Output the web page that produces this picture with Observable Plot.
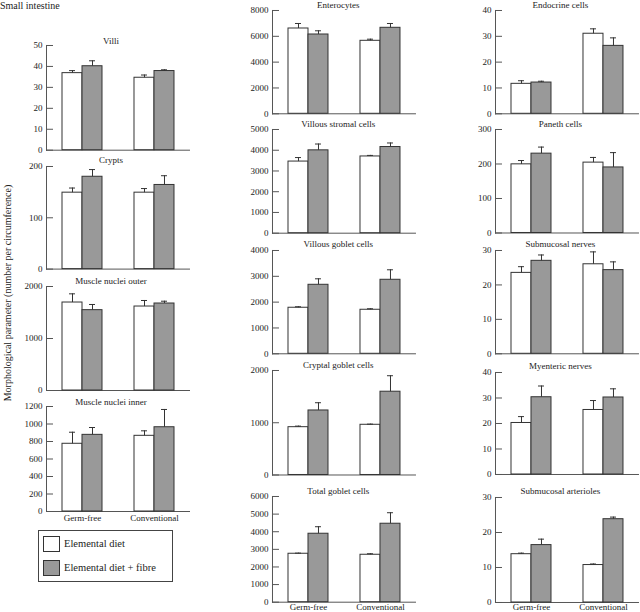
<!DOCTYPE html>
<html><head><meta charset="utf-8">
<script src="https://cdn.jsdelivr.net/npm/d3@7"></script>
<script src="https://cdn.jsdelivr.net/npm/@observablehq/plot@0.6"></script>
<style>
body{margin:0;background:#fff;}
#chart{position:relative;width:640px;height:612px;overflow:hidden;font-family:"Liberation Serif","Times New Roman",serif;color:#222;background:#fff;}
.abs{position:absolute;}
.title{position:absolute;font-size:9px;line-height:9px;white-space:nowrap;transform:translate(-50%,-50%);}
</style></head><body><div id="chart"></div><script>
// ---- data ----
const groups = ["Germ-free", "Conventional"];
const diets = ["Elemental diet", "Elemental diet + fibre"];
// value order: Germ-free/Elemental, Germ-free/+fibre, Conventional/Elemental, Conventional/+fibre
const villiMean = [36.8, 40.1, 34.6, 37.8];       const villiSem = [1.2, 2.6, 1.3, 0.6];
const cryptsMean = [149, 180, 149, 164];          const cryptsSem = [9, 14, 8, 18];
const muscleOuterMean = [1692, 1545, 1615, 1673]; const muscleOuterSem = [167, 109, 116, 44];
const muscleInnerMean = [774, 876, 865, 963];     const muscleInnerSem = [132, 84, 57, 203];
const enterocytesMean = [6606, 6141, 5653, 6660]; const enterocytesSem = [387, 287, 124, 333];
const stromalMean = [3454, 3995, 3700, 4155];     const stromalSem = [193, 305, 50, 195];
const villGobletMean = [1783, 2672, 1705, 2866];  const villGobletSem = [38, 232, 39, 387];
const cryptGobletMean = [915, 1235, 961, 1594];   const cryptGobletSem = [20, 148, 12, 306];
const totalGobletMean = [2750, 3886, 2693, 4454]; const totalGobletSem = [34, 398, 57, 625];
const endocrineMean = [11.6, 12.1, 31.0, 26.3];   const endocrineSem = [1.2, 0.5, 1.9, 3.1];
const panethMean = [199, 230, 204, 190];          const panethSem = [11, 19, 15, 43];
const subNervesMean = [23.5, 27.0, 26.0, 24.3];   const subNervesSem = [1.8, 1.7, 3.6, 2.4];
const myentericMean = [20.2, 30.3, 25.3, 30.2];   const myentericSem = [2.5, 4.4, 3.7, 3.4];
const arteriolesMean = [13.8, 16.4, 10.7, 23.8];  const arteriolesSem = [0.3, 1.7, 0.3, 0.6];

const panelTitles = ["Villi","Crypts","Muscle nuclei outer","Muscle nuclei inner",
  "Enterocytes","Villous stromal  cells","Villous goblet cells","Cryptal goblet cells","Total goblet cells",
  "Endocrine cells","Paneth cells","Submucosal nerves","Myenteric nerves","Submucosal arterioles"];
const panelMeans = [villiMean,cryptsMean,muscleOuterMean,muscleInnerMean,enterocytesMean,stromalMean,villGobletMean,cryptGobletMean,totalGobletMean,endocrineMean,panethMean,subNervesMean,myentericMean,arteriolesMean];
const panelSems = [villiSem,cryptsSem,muscleOuterSem,muscleInnerSem,enterocytesSem,stromalSem,villGobletSem,cryptGobletSem,totalGobletSem,endocrineSem,panethSem,subNervesSem,myentericSem,arteriolesSem];
const axisMax =  [50, 200, 2000, 1200, 8000, 5000, 4000, 2000, 6000, 40, 300, 30, 40, 30];
const axisStep = [10, 100, 1000, 200, 2000, 1000, 1000, 1000, 1000, 10, 100, 10, 10, 10];

// ---- layout ----
const cols = [{axisX:45, w:145, mr:5, pad:3}, {axisX:272.3, w:144.7, mr:5, pad:1}, {axisX:494.3, w:145.7, mr:0, pad:1}];
const layout = [
  {col:0, yTop:45.3, yBase:150, titleY:40.5},
  {col:0, yTop:165.7, yBase:268.3, titleY:159.5},
  {col:0, yTop:286, yBase:390, titleY:280.5},
  {col:0, yTop:406, yBase:511, titleY:401.5, bottom:true},
  {col:1, yTop:10, yBase:113.3, titleY:4.5},
  {col:1, yTop:129.3, yBase:233, titleY:124},
  {col:1, yTop:250, yBase:353.3, titleY:244},
  {col:1, yTop:370, yBase:474.5, titleY:365},
  {col:1, yTop:496, yBase:601.7, titleY:491, bottom:true},
  {col:2, yTop:10, yBase:113.3, titleY:4.5},
  {col:2, yTop:129.3, yBase:232.8, titleY:124},
  {col:2, yTop:250, yBase:353.3, titleY:244},
  {col:2, yTop:372.3, yBase:474.3, titleY:366},
  {col:2, yTop:496.7, yBase:601.7, titleY:491, bottom:true}
];

const chart = document.getElementById("chart");
const FONT = '"Liberation Serif","Times New Roman",serif';

panelTitles.forEach((title, k) => {
  const L = layout[k], c = cols[L.col];
  const rows = [];
  groups.forEach((g, gi) => diets.forEach((d, di) => {
    const i = gi * 2 + di;
    rows.push({group: g, diet: d, mean: panelMeans[k][i], upper: panelMeans[k][i] + panelSems[k][i]});
  }));
  const mt = 6, mb = L.bottom ? 20 : 6, ml = 45;
  const svg = Plot.plot({
    width: ml + c.w + c.mr,
    height: (L.yBase - L.yTop) + mt + mb,
    marginTop: mt, marginBottom: mb, marginLeft: ml, marginRight: c.mr,
    style: {fontFamily: FONT, fontSize: "9px", color: "#222", background: "transparent", overflow: "visible"},
    fx: {domain: groups, padding: 0, axis: L.bottom ? "bottom" : null, label: null, tickSize: 0, tickPadding: c.pad},
    x: {domain: diets, paddingInner: 0, paddingOuter: 0.726, axis: null},
    y: {domain: [0, axisMax[k]], axis: null},
    color: {domain: diets, range: ["#ffffff", "#999999"]},
    marks: [
      Plot.frame({anchor: "left", facetAnchor: "left", stroke: "#555"}),
      Plot.axisY(d3.range(0, axisMax[k] + axisStep[k] / 2, axisStep[k]), {anchor: "left", tickSize: -7, tickPadding: 11, tickFormat: d => String(d), stroke: "#555"}),
      Plot.ruleY([0], {stroke: "#555"}),
      Plot.barY(rows, {fx: "group", x: "diet", y: "mean", fill: "diet", stroke: "#333", strokeWidth: 1}),
      Plot.ruleX(rows, {fx: "group", x: "diet", y1: "mean", y2: "upper", stroke: "#333"}),
      Plot.tickY(rows, {fx: "group", x: "diet", y: "upper", stroke: "#333", insetLeft: 7, insetRight: 7})
    ]
  });
  svg.style.position = "absolute";
  svg.style.left = (c.axisX - ml) + "px";
  svg.style.top = (L.yTop - mt) + "px";
  chart.appendChild(svg);
  const t = document.createElement("div");
  t.className = "title";
  t.textContent = title;
  t.style.left = (c.axisX + 66) + "px";
  t.style.top = L.titleY + "px";
  chart.appendChild(t);
});

// heading
const h = document.createElement("div");
h.className = "abs";
h.style.cssText = "left:0px;top:0px;font-size:10px;line-height:11px;white-space:nowrap;";
h.textContent = "Small intestine";
chart.appendChild(h);

// y label
const yl = document.createElement("div");
yl.className = "abs";
yl.style.cssText = "left:8px;top:293px;font-size:10px;line-height:10px;white-space:nowrap;transform:translate(-50%,-50%) rotate(-90deg);";
yl.textContent = "Morphological parameter (number per circumference)";
chart.appendChild(yl);

// legend
const lg = document.createElement("div");
lg.className = "abs";
lg.style.cssText = "left:38px;top:530px;width:135px;height:52px;box-sizing:border-box;border:1px solid #444;";
const swFill = ["#ffffff", "#999999"];
diets.forEach((d, i) => {
  const sw = document.createElement("div");
  sw.className = "abs";
  sw.style.cssText = `left:4px;top:${5 + i * 24}px;width:17px;height:16px;box-sizing:border-box;border:1px solid #333;background:${swFill[i]};`;
  lg.appendChild(sw);
  const tx = document.createElement("div");
  tx.className = "abs";
  tx.style.cssText = `left:25px;top:${5 + i * 24}px;height:16px;line-height:16px;font-size:10.5px;white-space:nowrap;`;
  tx.textContent = d;
  lg.appendChild(tx);
});
chart.appendChild(lg);
</script></body></html>
